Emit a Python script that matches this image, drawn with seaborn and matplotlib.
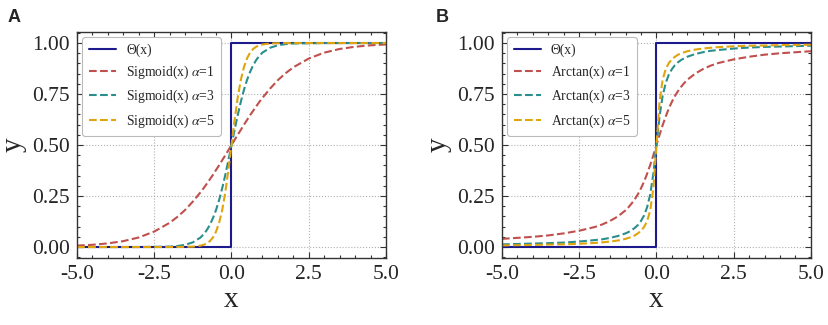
import matplotlib
matplotlib.use("Agg")
import matplotlib.pyplot as plt
import seaborn as sns
import pandas as pd
from matplotlib.ticker import MultipleLocator

# ---- data ----
x_vals = [-5, -4.5, -4, -3.5, -3, -2.5, -2, -1.75, -1.5, -1.25, -1,
          -0.9, -0.8, -0.7, -0.6, -0.5, -0.4, -0.3, -0.2, -0.1, 0,
          0.1, 0.2, 0.3, 0.4, 0.5, 0.6, 0.7, 0.8, 0.9, 1,
          1.25, 1.5, 1.75, 2, 2.5, 3, 3.5, 4, 4.5, 5]

step_x = [-5, 0, 0, 5]
step_y = [0, 0, 1, 1]

sig_a1 = [0.007, 0.011, 0.018, 0.029, 0.047, 0.076, 0.119, 0.148, 0.182, 0.223, 0.269,
          0.289, 0.310, 0.332, 0.354, 0.378, 0.401, 0.426, 0.450, 0.475, 0.500,
          0.525, 0.550, 0.574, 0.599, 0.622, 0.646, 0.668, 0.690, 0.711, 0.731,
          0.777, 0.818, 0.852, 0.881, 0.924, 0.953, 0.971, 0.982, 0.989, 0.993]
sig_a3 = [0.000, 0.000, 0.000, 0.000, 0.000, 0.001, 0.002, 0.005, 0.011, 0.023, 0.047,
          0.063, 0.083, 0.109, 0.142, 0.182, 0.231, 0.289, 0.354, 0.426, 0.500,
          0.574, 0.646, 0.711, 0.769, 0.818, 0.858, 0.891, 0.917, 0.937, 0.953,
          0.977, 0.989, 0.995, 0.998, 0.999, 1.000, 1.000, 1.000, 1.000, 1.000]
sig_a5 = [0.000, 0.000, 0.000, 0.000, 0.000, 0.000, 0.000, 0.000, 0.001, 0.002, 0.007,
          0.011, 0.018, 0.029, 0.047, 0.076, 0.119, 0.182, 0.269, 0.378, 0.500,
          0.622, 0.731, 0.818, 0.881, 0.924, 0.953, 0.971, 0.982, 0.989, 0.993,
          0.998, 0.999, 1.000, 1.000, 1.000, 1.000, 1.000, 1.000, 1.000, 1.000]

atan_a1 = [0.040, 0.045, 0.050, 0.057, 0.067, 0.080, 0.098, 0.111, 0.128, 0.150, 0.180,
           0.196, 0.214, 0.235, 0.259, 0.288, 0.321, 0.360, 0.403, 0.450, 0.500,
           0.550, 0.597, 0.640, 0.679, 0.712, 0.741, 0.765, 0.786, 0.804, 0.820,
           0.850, 0.872, 0.889, 0.902, 0.920, 0.933, 0.943, 0.950, 0.955, 0.960]
atan_a3 = [0.013, 0.015, 0.017, 0.019, 0.022, 0.027, 0.034, 0.038, 0.045, 0.054, 0.067,
           0.074, 0.083, 0.094, 0.108, 0.128, 0.155, 0.196, 0.259, 0.360, 0.500,
           0.640, 0.741, 0.804, 0.845, 0.872, 0.892, 0.906, 0.917, 0.926, 0.933,
           0.946, 0.955, 0.962, 0.966, 0.973, 0.978, 0.981, 0.983, 0.985, 0.987]
atan_a5 = [0.008, 0.009, 0.010, 0.012, 0.013, 0.016, 0.020, 0.023, 0.027, 0.032, 0.040,
           0.045, 0.050, 0.057, 0.067, 0.080, 0.098, 0.128, 0.180, 0.288, 0.500,
           0.712, 0.820, 0.872, 0.902, 0.920, 0.933, 0.943, 0.950, 0.955, 0.960,
           0.968, 0.973, 0.977, 0.980, 0.984, 0.987, 0.988, 0.990, 0.991, 0.992]

xticks = [-5.0, -2.5, 0.0, 2.5, 5.0]
yticks = [0.00, 0.25, 0.50, 0.75, 1.00]

step_label = "Θ(x)"
panels = [
    ("A", "Sigmoid(x)", [sig_a1, sig_a3, sig_a5]),
    ("B", "Arctan(x)", [atan_a1, atan_a3, atan_a5]),
]
alphas = [1, 3, 5]
step_color = "#1c1a8c"
curve_colors = ["#c0504d", "#2a8f8c", "#e0a40c"]

# ---- style ----
sns.set_style("ticks")
plt.rcParams["font.family"] = ["Liberation Serif", "DejaVu Serif"]
plt.rcParams["mathtext.fontset"] = "stix"
plt.rcParams["axes.unicode_minus"] = False

fig = plt.figure(figsize=(8.29, 3.25), dpi=100)
positions = [[0.0929, 0.206, 0.3727, 0.6954], [0.6055, 0.206, 0.3727, 0.6954]]
letter_pos = [(0.009, 0.972), (0.526, 0.972)]

for (letter, name, series), pos, lp in zip(panels, positions, letter_pos):
    ax = fig.add_axes(pos)
    sns.lineplot(x=step_x, y=step_y, ax=ax, color=step_color, lw=1.5,
                 estimator=None, sort=False, label=step_label)
    for vals, a, c in zip(series, alphas, curve_colors):
        sns.lineplot(x=x_vals, y=vals, ax=ax, color=c, lw=1.5, linestyle="--",
                     dashes=(3.5, 2.0), estimator=None, sort=False,
                     label=f"{name} $\\alpha$={a}")
    ax.set_xlim(-5, 5)
    ax.set_ylim(-0.054, 1.054)
    ax.set_xticks(xticks)
    ax.set_xticklabels([f"{t:.1f}" for t in xticks])
    ax.set_yticks(yticks)
    ax.set_yticklabels([f"{t:.2f}" for t in yticks])
    ax.xaxis.set_minor_locator(MultipleLocator(0.5))
    ax.yaxis.set_minor_locator(MultipleLocator(0.05))
    ax.tick_params(which="both", direction="in", top=True, right=True,
                   color="#333333", width=0.8)
    ax.tick_params(which="major", length=4.5, labelsize=15.5, pad=5)
    ax.tick_params(which="minor", length=2.5)
    for sp in ax.spines.values():
        sp.set_linewidth(1.0)
        sp.set_color("#333333")
    ax.grid(True, which="major", linestyle=":", color="#b0b0b0", lw=0.8)
    ax.set_xlabel("x", fontsize=21, labelpad=2)
    ax.set_ylabel("y", fontsize=21, labelpad=4)
    leg = ax.legend(loc="upper left", fontsize=9.8, frameon=True, fancybox=True,
                    framealpha=1, edgecolor="#bbbbbb", handlelength=2.0,
                    borderaxespad=0.4, labelspacing=0.5, handletextpad=0.75,
                    borderpad=0.45)
    leg.get_frame().set_linewidth(0.8)
    fig.text(lp[0], lp[1], letter, fontsize=13, fontweight="bold",
             family="Liberation Sans", va="top", ha="left")

fig.savefig("out.png", dpi=100)
